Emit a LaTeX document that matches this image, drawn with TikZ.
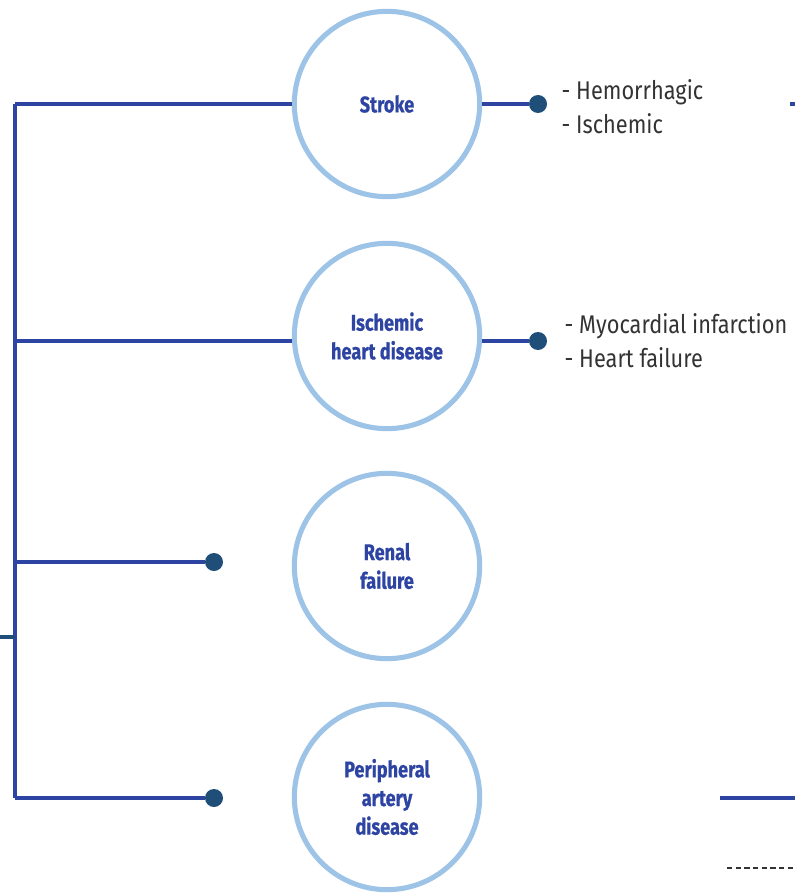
\documentclass[tikz,border=0pt]{standalone}
\usepackage{fontspec}
\setmainfont{Fira Sans}
\newfontfamily\condbold{Fira Sans}[FakeStretch=0.8,BoldFeatures={FakeBold=0.6}]
\newfontfamily\listfont{Fira Sans}[FakeStretch=0.85]
\definecolor{lineblue}{HTML}{2E44A3}
\definecolor{dotblue}{HTML}{1F4E79}
\definecolor{ringblue}{HTML}{9DC3E6}
\definecolor{txtgray}{HTML}{333333}
\begin{document}
\begin{tikzpicture}[x=0.75pt,y=-0.75pt,
  ring/.style={circle,draw=ringblue,line width=3.8pt,fill=white,minimum size=139pt,inner sep=0pt,
    align=center,text=lineblue,font=\condbold\bfseries\fontsize{17}{21.5}\selectfont},
  conn/.style={draw=lineblue,line width=2.3pt},
  dot/.style={circle,fill=dotblue,minimum size=13.5pt,inner sep=0pt},
  sub/.style={anchor=west,align=left,text=txtgray,font=\listfont\fontsize{19.2}{25.5}\selectfont}]
\useasboundingbox (0,0) rectangle (795,895);
% spine
\coordinate (top) at (15,104);
\coordinate (bot) at (15,798);
\coordinate (s2) at (15,341);
\coordinate (s3) at (15,562);
\coordinate (s5) at (15,637);
\coordinate (s5l) at (0,637);
% circles
\node[ring] (stroke) at (387,104) {Stroke};
\node[ring] (ihd) at (387,336) {Ischemic\\heart disease};
\node[ring] (renal) at (387,566) {Renal\\failure};
\node[ring] (pad) at (387,797) {Peripheral\\artery\\disease};
% dots
\node[dot] (d1) at (538,104) {};
\node[dot] (d2) at (538,341) {};
\node[dot] (d3) at (214,562) {};
\node[dot] (d4) at (214,798) {};
% connectors
\draw[conn] (top) -- (bot);
\draw[conn] (top) -- (stroke.west);
\draw[conn] (s2) -- (s2 -| ihd.west);
\draw[conn] (s3) -- (d3);
\draw[conn] (bot) -- (d4);
\draw[conn] (stroke.east) -- (d1);
\draw[conn] (ihd.east |- d2) -- (d2);
\draw[draw=dotblue,line width=2.3pt] (s5l) -- (s5);
% labels
\node[sub] (l1) at (557,107) {- Hemorrhagic\\- Ischemic};
\node[sub] (l2) at (560,341) {- Myocardial infarction\\- Heart failure};
% partial elements at right edge
\coordinate (e1) at (790,104);
\coordinate (e2) at (795,104);
\draw[conn] (e1) -- (e2);
\coordinate (p1) at (720,798);
\coordinate (p2) at (795,798);
\draw[conn] (p1) -- (p2);
\coordinate (q1) at (727,868);
\coordinate (q2) at (795,868);
\draw[txtgray,line width=1pt,dash pattern=on 4pt off 2.5pt] (q1) -- (q2);
\end{tikzpicture}
\end{document}
